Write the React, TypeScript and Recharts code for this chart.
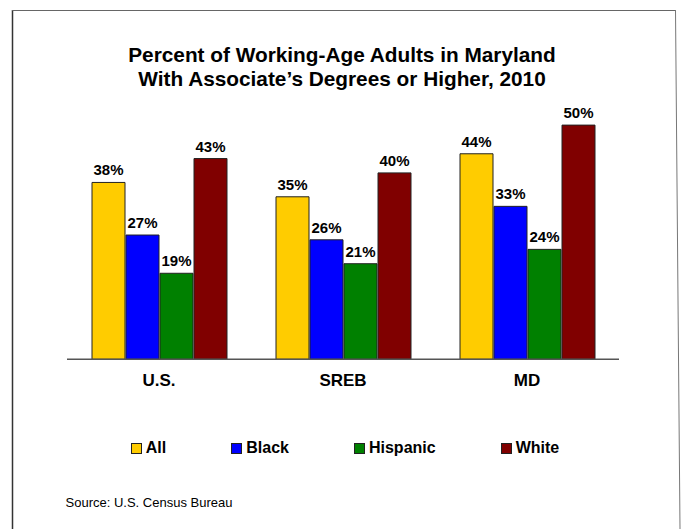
import React from "react";
import { BarChart, Bar, XAxis, YAxis, LabelList } from "recharts";

const categories = ["U.S.", "SREB", "MD"];
const allValues = [38, 35, 44];
const blackValues = [27, 26, 33];
const hispanicValues = [19, 21, 24];
const whiteValues = [43, 40, 50];

const seriesNames = ["All", "Black", "Hispanic", "White"];
const seriesKeys = ["all", "black", "hispanic", "white"];
const seriesColors = ["#FFCC00", "#0000FF", "#008000", "#800000"];

const titleLines = [
  "Percent of Working-Age Adults in Maryland",
  "With Associate\u2019s Degrees or Higher, 2010",
];
const sourceText = "Source: U.S. Census Bureau";

const data = categories.map((c, i) => ({
  name: c,
  all: allValues[i],
  black: blackValues[i],
  hispanic: hispanicValues[i],
  white: whiteValues[i],
}));

const FONT = '"Liberation Sans", Arial, Helvetica, sans-serif';

const CategoryTick = (props: any) => {
  const { x, y, payload } = props;
  return (
    <text
      x={x}
      y={y + 19}
      textAnchor="middle"
      fontFamily={FONT}
      fontWeight="bold"
      fontSize={17}
      fill="#000"
    >
      {payload.value}
    </text>
  );
};

export default function App() {
  return (
    <div
      style={{
        position: "absolute",
        left: 0,
        top: 0,
        width: 681,
        height: 529,
        background: "#fff",
        fontFamily: FONT,
      }}
    >
      <BarChart
        width={681}
        height={529}
        data={data}
        margin={{ top: 77.3, right: 62, bottom: 139.7, left: 67 }}
        barGap={1}
        barSize={33}
      >
        <XAxis
          dataKey="name"
          height={30}
          axisLine={{ stroke: "#555", strokeWidth: 1.5 }}
          tickLine={false}
          tick={<CategoryTick />}
          interval={0}
        />
        <YAxis hide domain={[1, 60]} />
        {seriesKeys.map((k, i) => (
          <Bar
            key={k}
            dataKey={k}
            name={seriesNames[i]}
            fill={seriesColors[i]}
            stroke="#222"
            strokeWidth={1}
            isAnimationActive={false}
          >
            <LabelList
              dataKey={k}
              position="top"
              offset={7}
              formatter={(v: any) => `${v}%`}
              fill="#000"
              fontFamily={FONT}
              fontWeight="bold"
              fontSize={15}
            />
          </Bar>
        ))}
      </BarChart>

      <svg
        width={681}
        height={529}
        style={{ position: "absolute", left: 0, top: 0, pointerEvents: "none" }}
      >
        <line x1={12.5} y1={10} x2={12.5} y2={529} stroke="#333" strokeWidth={1.5} />
        <line x1={12} y1={10.5} x2={675} y2={10.5} stroke="#666" strokeWidth={1} />
        <line x1={675.5} y1={10} x2={680} y2={529} stroke="#777" strokeWidth={1} />
        {titleLines.map((t, i) => (
          <text
            key={i}
            x={342}
            y={61.7 + i * 24}
            textAnchor="middle"
            fontFamily={FONT}
            fontWeight="bold"
            fontSize={20.8}
            fill="#000"
          >
            {t}
          </text>
        ))}
        <text x={65.5} y={507.3} fontFamily={FONT} fontSize={13} fill="#000">
          {sourceText}
        </text>
      </svg>

      <div
        style={{
          position: "absolute",
          left: 12,
          top: 439,
          width: 666,
          display: "flex",
          justifyContent: "center",
          alignItems: "center",
          gap: 65,
        }}
      >
        {seriesNames.map((n, i) => (
          <div key={n} style={{ display: "flex", alignItems: "center" }}>
            <span
              style={{
                display: "inline-block",
                width: 9,
                height: 9,
                background: seriesColors[i],
                border: "1px solid #222",
                marginRight: 4,
              }}
            />
            <span
              style={{
                fontFamily: FONT,
                fontWeight: "bold",
                fontSize: 16,
                lineHeight: "18px",
                color: "#000",
              }}
            >
              {n}
            </span>
          </div>
        ))}
      </div>
    </div>
  );
}
